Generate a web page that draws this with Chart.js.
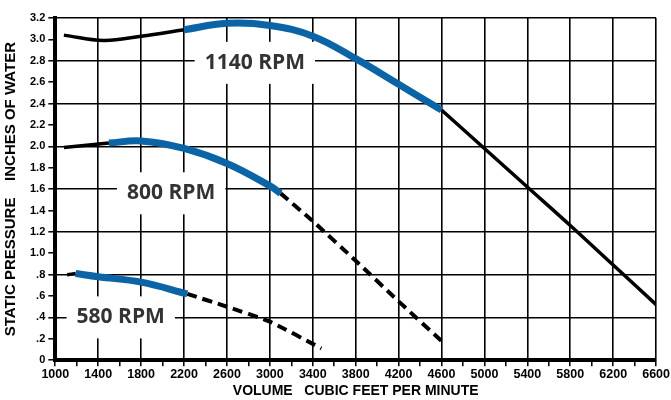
<!DOCTYPE html>
<html>
<head>
<meta charset="utf-8">
<script src="https://cdn.jsdelivr.net/npm/chart.js@4.4.0/dist/chart.umd.min.js"></script>
<style>
  html, body { margin: 0; padding: 0; background: #fff; }
</style>
</head>
<body>
<canvas id="fan" width="671" height="400"></canvas>
<script>
// tick labels
var xTickLabels = [1000, 1400, 1800, 2200, 2600, 3000, 3400, 3800, 4200, 4600, 5000, 5400, 5800, 6200, 6600];
var yTickLabels = ['0', '.2', '.4', '.6', '.8', '1.0', '1.2', '1.4', '1.6', '1.8', '2.0', '2.2', '2.4', '2.6', '2.8', '3.0', '3.2'];

// 1140 rpm curve
var rpm1140LowX  = [1080, 1450, 1800, 2200];
var rpm1140LowY  = [3.04, 2.99, 3.03, 3.09];
var rpm1140BlueX = [2200, 2600, 3000, 3400, 3800, 4200, 4600];
var rpm1140BlueY = [3.09, 3.15, 3.13, 3.03, 2.82, 2.58, 2.34];
var rpm1140HighX = [4600, 5000, 5400, 5800, 6200, 6600];
var rpm1140HighY = [2.34, 1.98, 1.62, 1.26, 0.89, 0.52];

// 800 rpm curve
var rpm800LowX  = [1080, 1500];
var rpm800LowY  = [1.99, 2.03];
var rpm800BlueX = [1500, 1800, 2200, 2600, 3000, 3100];
var rpm800BlueY = [2.03, 2.05, 1.98, 1.84, 1.63, 1.56];
var rpm800DashX = [3100, 3400, 3800, 4200, 4600];
var rpm800DashY = [1.56, 1.30, 0.93, 0.55, 0.18];

// 580 rpm curve
var rpm580LowX  = [1110, 1190];
var rpm580LowY  = [0.80, 0.81];
var rpm580BlueX = [1190, 1400, 1800, 2230];
var rpm580BlueY = [0.81, 0.78, 0.73, 0.62];
var rpm580DashX = [2230, 2600, 3000, 3480];
var rpm580DashY = [0.62, 0.50, 0.36, 0.11];

// curve names and where they sit (data units)
var rpmNames  = ['1140 RPM', '800 RPM', '580 RPM'];
var rpmLabelX = [2860, 2080, 1610];
var rpmLabelY = [2.79, 1.57, 0.41];

var BLUE = '#0a64a6';

function pts(xs, ys) {
  return xs.map(function (x, i) { return { x: x, y: ys[i] }; });
}

function blackLine(xs, ys, dashed) {
  return {
    data: pts(xs, ys),
    borderColor: '#000',
    borderWidth: dashed ? 4 : 3.5,
    borderDash: dashed ? [10, 6] : [],
    tension: dashed ? 0.2 : 0.4,
    pointRadius: 0,
    order: 2
  };
}

function blueLine(xs, ys) {
  return {
    data: pts(xs, ys),
    borderColor: BLUE,
    borderWidth: 7,
    tension: 0.4,
    pointRadius: 0,
    order: 1
  };
}

var rpmLabels = {
  id: 'rpmLabels',
  afterDatasetsDraw: function (chart) {
    var ctx = chart.ctx,
        xs = chart.scales.x,
        ys = chart.scales.y;
    ctx.save();
    ctx.font = 'bold 21px "Open Sans"';
    ctx.textAlign = 'center';
    ctx.textBaseline = 'middle';
    rpmNames.forEach(function (name, i) {
      var px = xs.getPixelForValue(rpmLabelX[i]),
          py = ys.getPixelForValue(rpmLabelY[i]),
          w = ctx.measureText(name).width;
      ctx.fillStyle = '#fff';
      ctx.fillRect(px - w / 2 - 10, py - 20, w + 20, 42);
      ctx.fillStyle = '#333';
      ctx.fillText(name, px, py + 1);
    });
    ctx.restore();
  }
};

new Chart(document.getElementById('fan').getContext('2d'), {
  type: 'line',
  data: {
    datasets: [
      blackLine(rpm1140LowX, rpm1140LowY),
      blueLine(rpm1140BlueX, rpm1140BlueY),
      blackLine(rpm1140HighX, rpm1140HighY),
      blackLine(rpm800LowX, rpm800LowY),
      blueLine(rpm800BlueX, rpm800BlueY),
      blackLine(rpm800DashX, rpm800DashY, true),
      blackLine(rpm580LowX, rpm580LowY),
      blueLine(rpm580BlueX, rpm580BlueY),
      blackLine(rpm580DashX, rpm580DashY, true)
    ]
  },
  options: {
    responsive: false,
    animation: false,
    layout: { padding: { top: 18, right: 0, bottom: 0, left: 0 } },
    plugins: { legend: { display: false }, tooltip: { enabled: false } },
    scales: {
      x: {
        type: 'linear',
        min: 1000,
        max: 6600,
        border: { display: true, color: '#000', width: 4 },
        grid: {
          color: function (c) {
            return c.tick && xTickLabels.indexOf(c.tick.value) >= 0 ? '#000' : 'rgba(0,0,0,0)';
          },
          lineWidth: 1.6,
          tickColor: '#000',
          tickWidth: 1.5,
          tickLength: 6
        },
        ticks: {
          stepSize: 200,
          autoSkip: false,
          maxRotation: 0,
          padding: 1,
          color: '#000',
          font: { family: 'Liberation Sans', size: 12.5, weight: 'bold' },
          callback: function (v) {
            return xTickLabels.indexOf(v) >= 0 ? String(v) : '';
          }
        },
        title: {
          display: true,
          text: 'VOLUME   CUBIC FEET PER MINUTE',
          color: '#000',
          font: { family: 'Liberation Sans', size: 14, weight: 'bold' },
          padding: { top: 0, bottom: 0 }
        }
      },
      y: {
        min: 0,
        max: 3.2,
        border: { display: true, color: '#000', width: 4 },
        grid: {
          color: function (c) {
            return c.tick && Math.round(c.tick.value * 10) % 4 === 0 ? '#000' : 'rgba(0,0,0,0)';
          },
          lineWidth: 1.6,
          tickColor: '#000',
          tickWidth: 1.5,
          tickLength: 7
        },
        ticks: {
          stepSize: 0.2,
          autoSkip: false,
          padding: 3,
          color: '#000',
          font: { family: 'Liberation Sans', size: 11, weight: 'bold' },
          callback: function (v) {
            return yTickLabels[Math.round(v / 0.2)];
          }
        },
        title: {
          display: true,
          text: 'STATIC PRESSURE    INCHES OF WATER',
          color: '#000',
          font: { family: 'Liberation Sans', size: 15, weight: 'bold' },
          padding: { top: 2, bottom: 7 }
        }
      }
    }
  },
  plugins: [rpmLabels]
});
</script>
</body>
</html>
